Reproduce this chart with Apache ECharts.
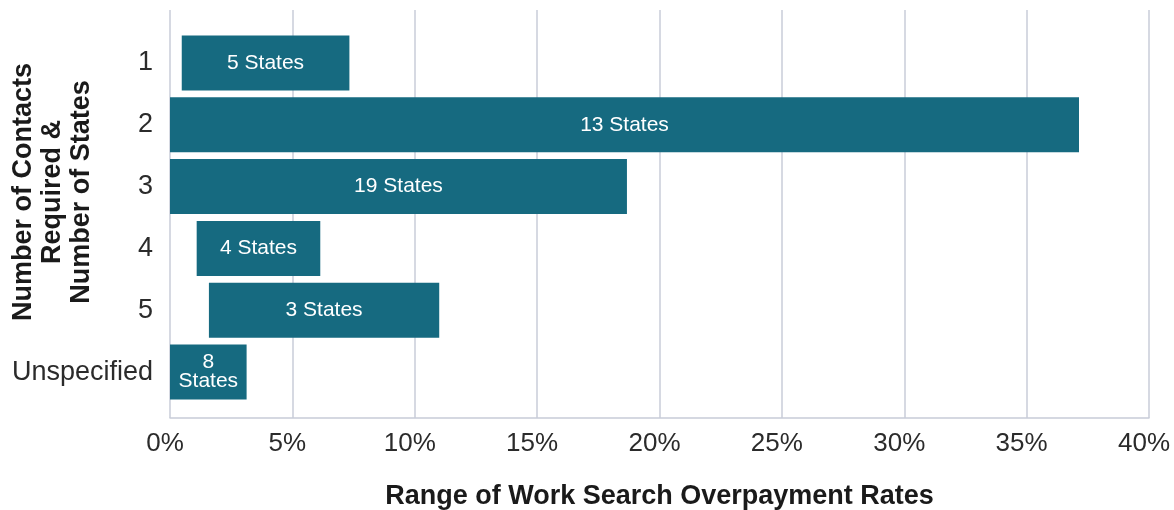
<!DOCTYPE html>
<html lang="en">
<head>
    <meta charset="UTF-8">
    <title>Work Search Overpayment Rates</title>
    <script src="https://cdn.jsdelivr.net/npm/echarts@6/dist/echarts.min.js"></script>
    <style>
        html, body { margin: 0; padding: 0; background: #fff; }
    </style>
</head>
<body>
<div id="chart" style="width: 1174px;height:510px;"></div>
<script>
    // categories and ranges (low / high overpayment rate in %)
    const contacts = ['1', '2', '3', '4', '5', 'Unspecified'];
    const rateLow = [0.48, 0, 0, 1.09, 1.59, 0];
    const rateHigh = [7.33, 37.14, 18.67, 6.14, 11.0, 3.13];
    const stateCounts = [5, 13, 19, 4, 3, 8];

    const barColor = '#166A80';
    const gridColor = '#C8CCD8';
    const font = 'Liberation Sans, Arial, sans-serif';

    let chart = echarts.init(document.getElementById('chart'));

    chart.setOption({
        animation: false,
        textStyle: {fontFamily: font},
        grid: [
            {left: 170, right: 25, top: 10, bottom: 92, outerBoundsMode: 'none'},
            {left: 170, right: 25, top: 32, bottom: 107, outerBoundsMode: 'none'}
        ],
        xAxis: [{
            gridIndex: 0,
            type: 'value',
            min: 0,
            max: 40,
            interval: 5,
            axisLine: {show: true, lineStyle: {color: gridColor, width: 1.5}},
            axisTick: {show: false},
            splitLine: {show: true, lineStyle: {color: gridColor, width: 1.5}},
            axisLabel: {
                formatter: '{value}%',
                fontSize: 26,
                color: '#2b2b2b',
                margin: 13,
                padding: [0, 10, 0, 0],
                fontFamily: font
            },
            name: 'Range of Work Search Overpayment Rates',
            nameLocation: 'middle',
            nameGap: 65,
            nameTextStyle: {fontSize: 27, fontWeight: 'bold', color: '#1a1a1a', fontFamily: font}
        }, {
            gridIndex: 1,
            type: 'value',
            min: 0,
            max: 40,
            show: false
        }],
        yAxis: [{
            gridIndex: 0,
            type: 'value',
            show: false
        }, {
            gridIndex: 1,
            type: 'category',
            inverse: true,
            data: contacts,
            axisLine: {show: false},
            axisTick: {show: false},
            axisLabel: {fontSize: 27, color: '#2b2b2b', margin: 17, fontFamily: font}
        }],
        graphic: [{
            type: 'text',
            x: 53,
            y: 192,
            rotation: Math.PI / 2,
            style: {
                text: 'Number of Contacts\nRequired &\nNumber of States',
                font: 'bold 27px ' + font,
                fill: '#1a1a1a',
                align: 'center',
                verticalAlign: 'middle',
                lineHeight: 29
            }
        }],
        series: [{
            name: 'base',
            type: 'bar',
            xAxisIndex: 1,
            yAxisIndex: 1,
            stack: 'range',
            silent: true,
            itemStyle: {color: 'transparent'},
            data: rateLow
        }, {
            name: 'range',
            type: 'bar',
            xAxisIndex: 1,
            yAxisIndex: 1,
            stack: 'range',
            barWidth: 55,
            itemStyle: {color: barColor},
            label: {
                show: true,
                position: 'inside',
                color: '#fff',
                fontSize: 21,
                lineHeight: 19,
                fontFamily: font,
                formatter: p => p.dataIndex === 5
                    ? stateCounts[p.dataIndex] + '\nStates'
                    : stateCounts[p.dataIndex] + ' States'
            },
            data: rateHigh.map((v, i) => +(v - rateLow[i]).toFixed(2))
        }]
    });
</script>
</body>
</html>
